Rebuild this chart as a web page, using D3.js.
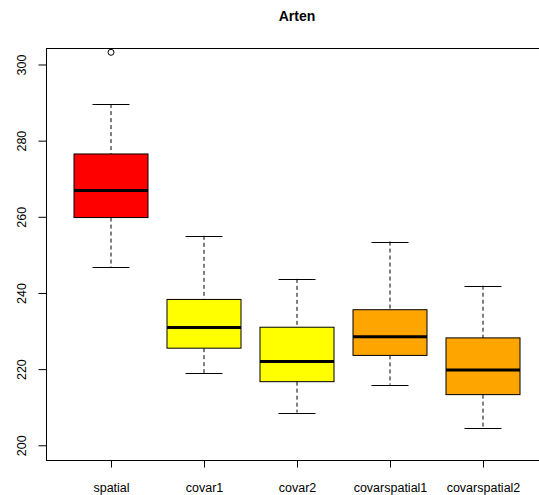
<!DOCTYPE html>
<html>
<head>
<meta charset="utf-8">
<script src="https://cdn.jsdelivr.net/npm/d3@7"></script>
<style>
  html, body { margin: 0; padding: 0; background: #fff; }
  svg { display: block; font-family: "Liberation Sans", Arial, Helvetica, sans-serif; }
</style>
</head>
<body>
<svg id="chart" width="539" height="495"></svg>
<script>
// Box plot of species counts ("Arten") per model
const categories = ["spatial", "covar1", "covar2", "covarspatial1", "covarspatial2"];
const lowerWhisker = [246.8, 219.0, 208.6, 215.9, 204.6];
const q1 =           [259.8, 225.5, 216.7, 223.6, 213.3];
const median =       [266.9, 230.9, 222.0, 228.5, 219.8];
const q3 =           [276.5, 238.3, 231.0, 235.6, 228.2];
const upperWhisker = [289.6, 255.0, 243.7, 253.5, 241.9];
const outliers =     [[303.2], [], [], [], []];
const fills = ["#ff0000", "#ffff00", "#ffff00", "#ffa500", "#ffa500"];
const yTicks = [200, 220, 240, 260, 280, 300];

const svg = d3.select("#chart");
const plot = { left: 46, top: 48.5, bottom: 460.5, right: 560 };

const y = d3.scaleLinear().domain([196, 304.2]).range([plot.bottom, plot.top]);
const x = d3.scalePoint().domain(categories).range([111, 483]);
const boxW = 74;
const capW = 37;

// frame around the plotting region
svg.append("rect")
  .attr("x", plot.left + 0.5).attr("y", plot.top)
  .attr("width", plot.right - plot.left).attr("height", plot.bottom - plot.top)
  .attr("fill", "none").attr("stroke", "#000").attr("stroke-width", 1);

// title
svg.append("text")
  .attr("x", 297).attr("y", 21)
  .attr("text-anchor", "middle")
  .attr("font-size", 14).attr("font-weight", "bold")
  .text("Arten");

// y axis
const yAxis = d3.axisLeft(y).tickValues(yTicks).tickSize(8).tickPadding(0).tickFormat(d3.format("d"));
const yg = svg.append("g").attr("transform", `translate(${plot.left + 0.5},0)`).call(yAxis);
yg.select(".domain").remove();
yg.selectAll(".tick line").attr("stroke", "#000");
yg.selectAll(".tick text")
  .attr("font-size", 12.5).attr("fill", "#000")
  .attr("text-anchor", "middle")
  .attr("x", null).attr("dy", null)
  .attr("transform", "translate(-24,0) rotate(-90)")
  .attr("y", 0).attr("dominant-baseline", "middle");

// x axis
const xAxis = d3.axisBottom(x).tickSize(7).tickPadding(0);
const xg = svg.append("g").attr("transform", `translate(0,${plot.bottom})`).call(xAxis);
xg.select(".domain").remove();
xg.selectAll(".tick line").attr("stroke", "#000");
xg.selectAll(".tick text")
  .attr("font-size", 12.5).attr("fill", "#000")
  .attr("y", 27).attr("dy", "0.35em");

// boxes
const data = categories.map((c, i) => ({
  c, lo: lowerWhisker[i], q1: q1[i], med: median[i], q3: q3[i], hi: upperWhisker[i],
  out: outliers[i], fill: fills[i]
}));

const g = svg.selectAll("g.box").data(data).join("g").attr("class", "box");

// dashed whiskers
g.append("line")
  .attr("x1", d => x(d.c)).attr("x2", d => x(d.c))
  .attr("y1", d => y(d.hi)).attr("y2", d => y(d.q3))
  .attr("stroke", "#000").attr("stroke-dasharray", "4,3");
g.append("line")
  .attr("x1", d => x(d.c)).attr("x2", d => x(d.c))
  .attr("y1", d => y(d.q1)).attr("y2", d => y(d.lo))
  .attr("stroke", "#000").attr("stroke-dasharray", "4,3");

// whisker caps
g.append("line")
  .attr("x1", d => x(d.c) - capW / 2).attr("x2", d => x(d.c) + capW / 2)
  .attr("y1", d => Math.round(y(d.hi)) + 0.5).attr("y2", d => Math.round(y(d.hi)) + 0.5)
  .attr("stroke", "#000");
g.append("line")
  .attr("x1", d => x(d.c) - capW / 2).attr("x2", d => x(d.c) + capW / 2)
  .attr("y1", d => Math.round(y(d.lo)) + 0.5).attr("y2", d => Math.round(y(d.lo)) + 0.5)
  .attr("stroke", "#000");

// interquartile box
g.append("rect")
  .attr("x", d => x(d.c) - boxW / 2).attr("width", boxW)
  .attr("y", d => y(d.q3)).attr("height", d => y(d.q1) - y(d.q3))
  .attr("fill", d => d.fill).attr("stroke", "#000").attr("stroke-width", 1);

// median
g.append("line")
  .attr("x1", d => x(d.c) - boxW / 2).attr("x2", d => x(d.c) + boxW / 2)
  .attr("y1", d => y(d.med)).attr("y2", d => y(d.med))
  .attr("stroke", "#000").attr("stroke-width", 3);

// outliers
g.selectAll("circle").data(d => d.out.map(v => ({ c: d.c, v }))).join("circle")
  .attr("cx", d => x(d.c)).attr("cy", d => y(d.v)).attr("r", 3)
  .attr("fill", "none").attr("stroke", "#000");
</script>
</body>
</html>
